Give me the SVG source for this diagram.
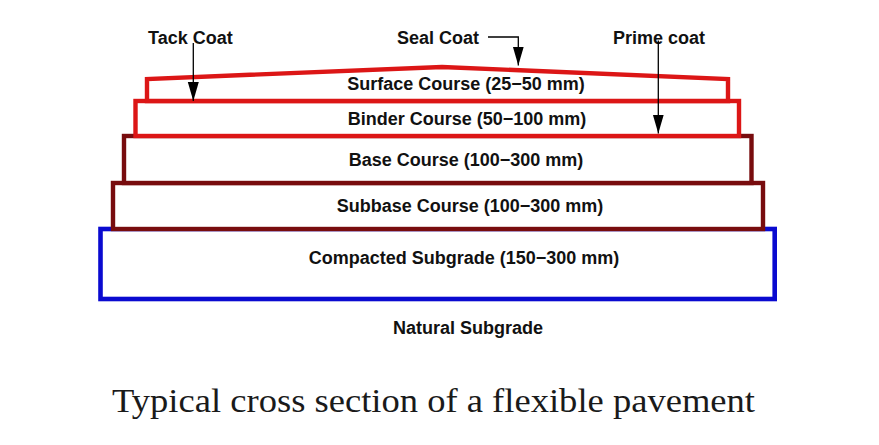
<svg xmlns="http://www.w3.org/2000/svg" width="879" height="445" viewBox="0 0 879 445">
  <style>
    .lbl { font-family: "Liberation Sans", Arial, sans-serif; font-weight: bold; font-size: 18px; fill: #111; text-anchor: middle; }
    .tl { font-family: "Liberation Sans", Arial, sans-serif; font-weight: bold; font-size: 18px; fill: #111; }
    .red { fill: #fff; stroke: #dc1616; stroke-width: 4.4; }
    .dred { fill: #fff; stroke: #780c0e; stroke-width: 4.4; }
    .blue { fill: #fff; stroke: #0a0ad0; stroke-width: 4.6; }
    .conn { fill: none; stroke: #000; stroke-width: 1.3; }
    .title { font-family: "Liberation Serif", "Times New Roman", serif; font-size: 34px; fill: #1a1a1a; }
  </style>
  <defs>
    <marker id="arr" markerUnits="userSpaceOnUse" markerWidth="20" markerHeight="12" refX="19" refY="5.5" orient="auto">
      <path d="M0,0 L19,5.5 L0,11 Z" fill="#000"/>
    </marker>
  </defs>
  <rect width="879" height="445" fill="#fff"/>

  <g id="compacted-subgrade">
    <rect class="blue" x="100.5" y="229" width="674.2" height="70"/>
    <text class="lbl" x="464" y="264">Compacted Subgrade (150−300 mm)</text>
  </g>
  <g id="subbase-course">
    <rect class="dred" x="113" y="183" width="650" height="46"/>
    <text class="lbl" x="470" y="212">Subbase Course (100−300 mm)</text>
  </g>
  <g id="base-course">
    <rect class="dred" x="124" y="136" width="627.5" height="47"/>
    <text class="lbl" x="466" y="166">Base Course (100−300 mm)</text>
  </g>
  <g id="binder-course">
    <rect class="red" x="135.5" y="101" width="603.5" height="35"/>
    <text class="lbl" x="467" y="125">Binder Course (50−100 mm)</text>
  </g>
  <g id="surface-course">
    <polygon class="red" points="147,101 147,79 442,67 728,79 728,101"/>
    <text class="lbl" x="466" y="90">Surface Course (25−50 mm)</text>
  </g>

  <g id="tack-coat">
    <text class="tl" x="148" y="44">Tack Coat</text>
  </g>
  <g id="seal-coat">
    <text class="tl" x="397" y="44">Seal Coat</text>
  </g>
  <g id="prime-coat">
    <text class="tl" x="613" y="44">Prime coat</text>
  </g>

  <g id="connectors">
    <path class="conn" d="M193.3,43 V101" marker-end="url(#arr)"/>
    <path class="conn" d="M488,37 H518.3 V65.5" marker-end="url(#arr)"/>
    <path class="conn" d="M658.3,40.5 V133.5" marker-end="url(#arr)"/>
  </g>

  <g id="natural-subgrade">
    <text class="lbl" x="468" y="334">Natural Subgrade</text>
  </g>

  <text class="title" x="112" y="412" textLength="643" lengthAdjust="spacingAndGlyphs">Typical cross section of a flexible pavement</text>
</svg>
